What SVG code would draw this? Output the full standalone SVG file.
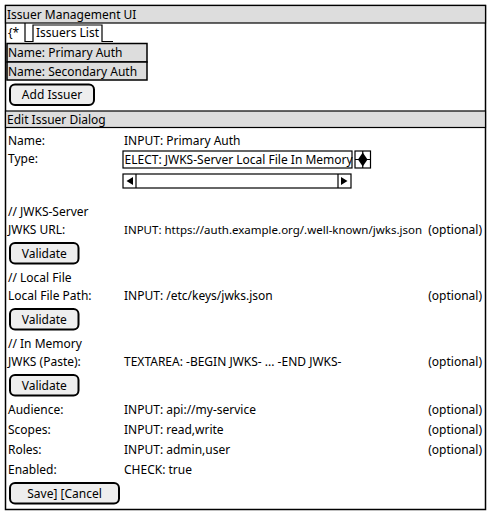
<svg xmlns="http://www.w3.org/2000/svg" width="491" height="515" viewBox="0 0 491 515">
<style>
text{font-family:"Noto Sans","Open Sans","DejaVu Sans",sans-serif;font-size:12px;fill:#000}
.bar{fill:#DDDDDD;stroke:#000;stroke-width:1.2}
.box{fill:#DDDDDD;stroke:#000;stroke-width:1.5}
.btn{fill:#EEEEEE;stroke:#000;stroke-width:2}
.ln{fill:none;stroke:#000;stroke-width:1.2}
.wb{fill:#FFFFFF;stroke:#000;stroke-width:1.2}
.opt{text-anchor:end}
.c{text-anchor:middle}
</style>
<rect x="0" y="0" width="491" height="515" fill="#FFFFFF"/>
<g id="frame">
<rect x="5.5" y="5.5" width="480" height="504" fill="#FFFFFF" stroke="#000" stroke-width="1.5"/>
</g>
<g id="management-header">
<rect class="bar" x="5.5" y="5.5" width="480" height="17.5"/>
<text x="7" y="18.5">Issuer Management UI</text>
</g>
<g id="tabs">
<path class="ln" d="M25,23 V41.5 H33 V25 H102 V41.5 H113"/>
<text x="8" y="36.5">{*</text>
<text x="36" y="36.5">Issuers List</text>
</g>
<g id="issuer-list">
<rect class="box" x="7" y="43.5" width="140" height="18.5"/>
<text x="8" y="57">Name: Primary Auth</text>
<rect class="box" x="7" y="62" width="140" height="18"/>
<text x="8" y="75.5">Name: Secondary Auth</text>
</g>
<g id="add-issuer">
<rect class="btn" x="10" y="84.5" width="84" height="20.5" rx="5"/>
<text class="c" x="52" y="99">Add Issuer</text>
</g>
<g id="dialog-header">
<rect class="bar" x="5.5" y="111" width="480" height="16.5"/>
<text x="7" y="124">Edit Issuer Dialog</text>
</g>
<g id="name-row">
<text x="8" y="145">Name:</text>
<text x="124" y="145">INPUT: Primary Auth</text>
</g>
<g id="type-row">
<text x="8" y="163">Type:</text>
<rect class="wb" x="123" y="151" width="229" height="17"/>
<text x="124.5" y="164">ELECT: JWKS-Server Local File In Memory</text>
<rect class="wb" x="355" y="151" width="15.5" height="17"/>
<path d="M362.75,151 V168 M355,159.5 H370.5" class="ln" stroke-width="1"/>
<path d="M362.75,152.5 L367.5,159.5 L362.75,166.5 L358,159.5 Z" fill="#000"/>
<rect class="wb" x="123" y="174" width="228" height="14"/>
<path class="ln" d="M136,174 V188 M338,174 V188"/>
<path d="M133,177 L126.5,181 L133,185 Z" fill="#000"/>
<path d="M341,177 L347.5,181 L341,185 Z" fill="#000"/>
</g>
<g id="jwks-server">
<text x="8" y="215.5">// JWKS-Server</text>
<text x="8" y="233.5">JWKS URL:</text>
<text x="124" y="233.5" style="font-size:11.5px">INPUT: https://auth.example.org/.well-known/jwks.json</text>
<text class="opt" x="482" y="233.5">(optional)</text>
<rect class="btn" x="10" y="243" width="68.5" height="20.5" rx="5"/>
<text class="c" x="44.25" y="258">Validate</text>
</g>
<g id="local-file">
<text x="8" y="281.5">// Local File</text>
<text x="8" y="299.5">Local File Path:</text>
<text x="124" y="299.5">INPUT: /etc/keys/jwks.json</text>
<text class="opt" x="482" y="299.5">(optional)</text>
<rect class="btn" x="10" y="309" width="68.5" height="20.5" rx="5"/>
<text class="c" x="44.25" y="324">Validate</text>
</g>
<g id="in-memory">
<text x="8" y="347.5">// In Memory</text>
<text x="8" y="365.5">JWKS (Paste):</text>
<text x="124" y="365.5">TEXTAREA: -BEGIN JWKS- ... -END JWKS-</text>
<text class="opt" x="482" y="365.5">(optional)</text>
<rect class="btn" x="10" y="375" width="68.5" height="20.5" rx="5"/>
<text class="c" x="44.25" y="390">Validate</text>
</g>
<g id="audience-row">
<text x="8" y="413.5">Audience:</text>
<text x="124" y="413.5">INPUT: api://my-service</text>
<text class="opt" x="482" y="413.5">(optional)</text>
</g>
<g id="scopes-row">
<text x="8" y="433.5">Scopes:</text>
<text x="124" y="433.5">INPUT: read,write</text>
<text class="opt" x="482" y="433.5">(optional)</text>
</g>
<g id="roles-row">
<text x="8" y="453.5">Roles:</text>
<text x="124" y="453.5">INPUT: admin,user</text>
<text class="opt" x="482" y="453.5">(optional)</text>
</g>
<g id="enabled-row">
<text x="8" y="473.5">Enabled:</text>
<text x="124" y="473.5">CHECK: true</text>
</g>
<g id="save-cancel">
<rect class="btn" x="10" y="483" width="109" height="20.5" rx="5"/>
<text class="c" x="64.5" y="498">Save] [Cancel</text>
</g>
<g id="connectors"/>
</svg>
